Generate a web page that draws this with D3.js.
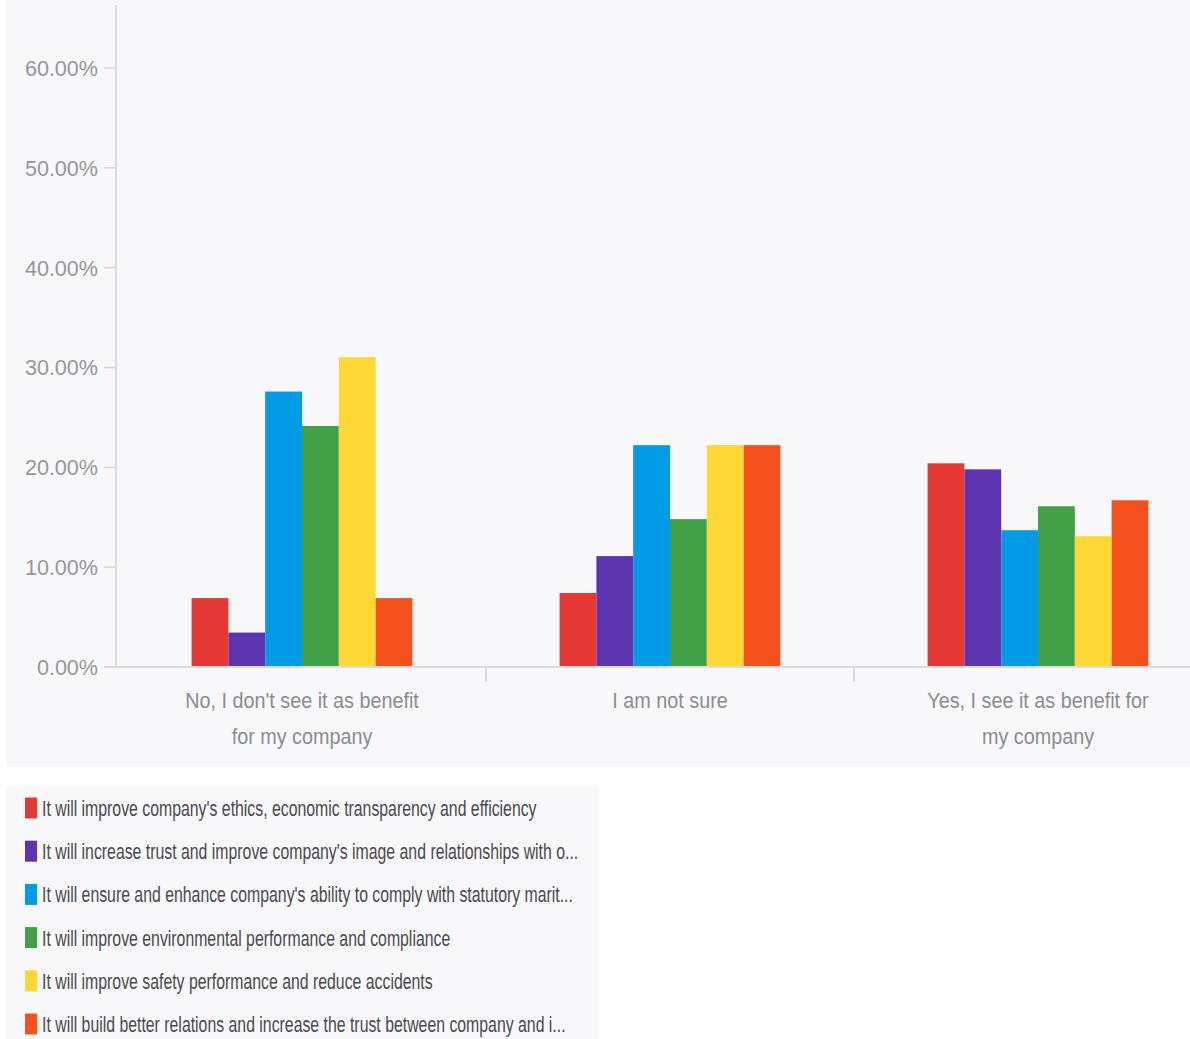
<!DOCTYPE html>
<html>
<head>
<meta charset="utf-8">
<script src="https://cdn.jsdelivr.net/npm/d3@7"></script>
<style>
  html, body { margin: 0; padding: 0; background: #ffffff; }
  svg { display: block; }
</style>
</head>
<body>
<svg id="chart" width="1190" height="1039"></svg>
<script>
// Answer groups along the x axis (each label split into display lines)
const categories = [
  ["No, I don't see it as benefit", "for my company"],
  ["I am not sure"],
  ["Yes, I see it as benefit for", "my company"]
];

// Benefit statements (legend order)
const seriesNames = [
  "It will improve company's ethics, economic transparency and efficiency",
  "It will increase trust and improve company's image and relationships with o...",
  "It will ensure and enhance company's ability to comply with statutory marit...",
  "It will improve environmental performance and compliance",
  "It will improve safety performance and reduce accidents",
  "It will build better relations and increase the trust between company and i..."
];

const seriesColors = ["#e53935", "#5e35b1", "#039be5", "#43a047", "#fdd835", "#f4511e"];

// Percentage of respondents, one array per statement, in category order
const ethics      = [6.90, 7.41, 20.4];
const trustImage  = [3.45, 11.11, 19.8];
const compliance  = [27.59, 22.22, 13.7];
const environment = [24.14, 14.81, 16.1];
const safety      = [31.03, 22.22, 13.1];
const relations   = [6.90, 22.22, 16.7];
const seriesValues = [ethics, trustImage, compliance, environment, safety, relations];

const yTicks = [0, 10, 20, 30, 40, 50, 60];

const svg = d3.select("#chart");

// panel backgrounds
svg.append("rect").attr("x", 6).attr("y", 0).attr("width", 1184).attr("height", 767).attr("fill", "#f8f8fa");
svg.append("rect").attr("x", 6).attr("y", 786).attr("width", 592).attr("height", 253).attr("fill", "#f8f8fa");

const y = d3.scaleLinear().domain([0, 60]).range([667, 68]);
const x0 = d3.scaleBand().domain(d3.range(categories.length)).range([118, 1222]).paddingInner(0).paddingOuter(0);
const x1 = d3.scaleBand().domain(d3.range(seriesNames.length))
  .range([x0.bandwidth() * 0.2, x0.bandwidth() * 0.8]).padding(0);

// y axis line
svg.append("line").attr("x1", 116).attr("x2", 116).attr("y1", 5).attr("y2", y(0))
  .attr("stroke", "#dcdcdf").attr("stroke-width", 2);

// y ticks and labels
const yAxis = svg.append("g");
yTicks.forEach(t => {
  yAxis.append("line").attr("x1", 104).attr("x2", 116).attr("y1", y(t)).attr("y2", y(t))
    .attr("stroke", "#d6d6d9").attr("stroke-width", 1.5);
  yAxis.append("text")
    .attr("transform", `translate(98,${y(t)}) scale(0.98,1)`)
    .attr("text-anchor", "end").attr("dy", "0.36em")
    .attr("font-family", "Liberation Sans, Arial, sans-serif").attr("font-size", 22)
    .attr("fill", "#96969a")
    .text(d3.format(".2f")(t) + "%");
});

// bars
const groups = svg.append("g").selectAll("g").data(categories).join("g")
  .attr("transform", (d, i) => `translate(${x0(i)},0)`);
groups.selectAll("rect")
  .data((d, i) => seriesValues.map((vals, s) => ({ s, v: vals[i] })))
  .join("rect")
  .attr("x", d => x1(d.s))
  .attr("width", x1.bandwidth())
  .attr("y", d => y(d.v))
  .attr("height", d => y(0) - y(d.v))
  .attr("fill", d => seriesColors[d.s]);

// baseline
svg.append("line").attr("x1", 104).attr("x2", 1190).attr("y1", y(0)).attr("y2", y(0))
  .attr("stroke", "#dcdcdf").attr("stroke-width", 2);

// category separators
d3.range(1, categories.length).forEach(i => {
  svg.append("line").attr("x1", x0(i)).attr("x2", x0(i)).attr("y1", y(0)).attr("y2", y(0) + 15)
    .attr("stroke", "#d0d0d3").attr("stroke-width", 1.5);
});

// category labels
categories.forEach((lines, i) => {
  const cx = x0(i) + x0.bandwidth() / 2;
  lines.forEach((ln, k) => {
    svg.append("text")
      .attr("transform", `translate(${cx},${708 + k * 36}) scale(0.9,1)`)
      .attr("text-anchor", "middle")
      .attr("font-family", "Liberation Sans, Arial, sans-serif").attr("font-size", 22)
      .attr("fill", "#8c8c90")
      .text(ln);
  });
});

// legend
const legend = svg.append("g");
seriesNames.forEach((name, i) => {
  const cy = 808 + i * 43.2;
  legend.append("rect").attr("x", 25).attr("y", cy - 10.5).attr("width", 12).attr("height", 21)
    .attr("fill", seriesColors[i]);
  legend.append("text")
    .attr("transform", `translate(42,${cy}) scale(0.72,1)`)
    .attr("dy", "0.36em")
    .attr("font-family", "Liberation Sans, Arial, sans-serif").attr("font-size", 22)
    .attr("fill", "#4a4a4e")
    .text(name);
});
</script>
</body>
</html>
